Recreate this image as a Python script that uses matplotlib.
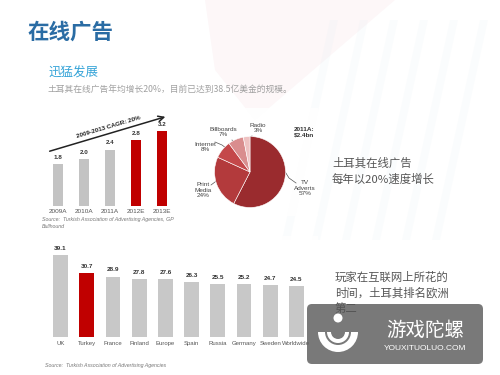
import matplotlib
matplotlib.use("Agg")
import matplotlib.pyplot as plt
import matplotlib.patches as mpatches

plt.rcParams["font.family"] = ["Liberation Sans", "Noto Sans CJK SC"]

# data
years = ["2009A", "2010A", "2011A", "2012E", "2013E"]
ad_spend = [1.8, 2.0, 2.4, 2.8, 3.2]
year_colors = ["#c3c3c3", "#c3c3c3", "#c3c3c3", "#c00000", "#c00000"]

media = ["TV\nAdverts\n57%", "Print\nMedia\n24%", "Internet\n8%", "Billboards\n7%", "Radio\n3%"]
media_share = [57, 24, 8, 7, 3]
media_colors = ["#9a2b2e", "#b33a3c", "#c4484a", "#d98d8e", "#eec2c2"]

countries = ["UK", "Turkey", "France", "Finland", "Europe", "Spain", "Russia",
             "Germany", "Sweden", "Worldwide"]
hours_online = [39.1, 30.7, 28.9, 27.8, 27.6, 26.3, 25.5, 25.2, 24.7, 24.5]
country_colors = ["#c8c8c8", "#c00000"] + ["#c8c8c8"] * 8

CJK = ["Noto Sans CJK SC", "DejaVu Sans"]
W, H = 500, 375


def px_axes(fig, left, top, right, bottom):
    return fig.add_axes([left / W, 1 - bottom / H, (right - left) / W, (bottom - top) / H])


fig = plt.figure(figsize=(5, 3.75), dpi=100)
fig.patch.set_facecolor("white")

bg = fig.add_axes([0, 0, 1, 1])
bg.set_xlim(0, W)
bg.set_ylim(H, 0)
bg.axis("off")

# faint background swoosh
bg.add_patch(mpatches.Polygon([(205, 0), (395, 0), (255, 120), (215, 70)],
                              closed=True, color="#e9a9b6", alpha=0.09, lw=0))
for k in range(6):
    x0 = 330 + k * 30
    bg.add_patch(mpatches.Polygon([(x0, 20), (x0 + 8, 20), (x0 - 40, 240), (x0 - 48, 240)],
                                  closed=True, color="#d5e6ef", alpha=0.10, lw=0))

# white panels
for (l, t, r, b) in [(30, 108, 182, 232), (183, 108, 318, 216), (36, 236, 318, 370)]:
    bg.add_patch(mpatches.Rectangle((l, t), r - l, b - t, color="white", alpha=0.92, lw=0))

# headings
bg.text(28, 32, "在线广告", family=CJK, fontsize=15.5, fontweight="bold",
        color="#2a6ca4", va="center")
bg.text(48, 73, "迅猛发展", family=CJK, fontsize=9, color="#36a4d8", va="center")
bg.text(48, 89, "土耳其在线广告年均增长20%，目前已达到38.5亿美金的规模。",
        family=CJK, fontsize=6.3, color="#a0a0a0", va="center")

bg.text(332, 163, "土耳其在线广告", family=CJK, fontsize=8.2, color="#555555", va="center")
bg.text(332, 179, "每年以20%速度增长", family=CJK, fontsize=8.2, color="#555555", va="center")
bg.text(335, 277, "玩家在互联网上所花的", family=CJK, fontsize=8.2, color="#555555", va="center")
bg.text(335, 293, "时间，土耳其排名欧洲", family=CJK, fontsize=8.2, color="#555555", va="center")
bg.text(335, 309, "第二", family=CJK, fontsize=8.2, color="#555555", va="center")

# top-left bar chart
ax1 = px_axes(fig, 40, 112, 180, 206)
ax1.bar(range(len(years)), ad_spend, width=0.4, color=year_colors)
for i, v in enumerate(ad_spend):
    ax1.annotate(f"{v:.1f}", (i, v), xytext=(0, 3), textcoords="offset points",
                 ha="center", va="bottom", fontsize=4.5, fontweight="bold", color="#333333")
ax1.set_xlim(-0.7, 4.7)
ax1.set_ylim(0, 4)
ax1.axhline(0, color="#bbbbbb", lw=0.6)
ax1.set_xticks(range(len(years)))
ax1.set_xticklabels(years, fontsize=4.6, color="#555555")
ax1.tick_params(axis="x", length=0, pad=2)
ax1.set_yticks([])
for s in ax1.spines.values():
    s.set_visible(False)
ax1.patch.set_alpha(0)

bg.annotate("", xy=(168, 116), xytext=(47, 152),
            arrowprops=dict(arrowstyle="->", lw=1.1, color="#222222"))
bg.text(109, 127, "2009-2013 CAGR: 20%", fontsize=4.5, fontweight="bold",
        rotation=16.5, ha="center", va="center", color="#222222")
bg.text(42, 219, "Source:  Turkish Association of Advertising Agencies, GP",
        fontsize=3.8, style="italic", color="#777777", va="center")
bg.text(42, 226, "Bullhound", fontsize=3.8, style="italic", color="#777777", va="center")

# pie chart
ax2 = px_axes(fig, 250 - 35.5, 172 - 35.5, 250 + 35.5, 172 + 35.5)
ax2.pie(media_share, colors=media_colors, startangle=90, counterclock=False,
        wedgeprops=dict(edgecolor="white", linewidth=0.4))
ax2.set_xlim(-1, 1)
ax2.set_ylim(-1, 1)

label_pos = [(305, 188), (203, 190), (205, 147), (223, 132), (258, 128)]
leader = [[(296, 183), (289, 178), (284, 170)],
          [(211, 185), (215, 182), (219, 178)],
          [(215, 142), (222, 145), (226, 148)],
          [(232, 140), (236, 146), (238, 148)],
          [(252, 136), (248, 138), (247, 141)]]
for name, pos, pts in zip(media, label_pos, leader):
    bg.text(pos[0], pos[1], name, fontsize=4.6, ha="center", va="center",
            color="#444444", linespacing=1.05)
    bg.plot([p[0] for p in pts], [p[1] for p in pts], color="#555555", lw=0.5)
bg.text(294, 132, "2011A:\n\\$2.4bn", fontsize=4.6, fontweight="bold",
        ha="left", va="center", color="#333333", linespacing=1.1)

# bottom bar chart
ax3 = px_axes(fig, 37, 243, 320, 337)
ax3.bar(range(len(countries)), hours_online, width=0.57, color=country_colors)
for i, v in enumerate(hours_online):
    ax3.annotate(f"{v:.1f}", (i, v), xytext=(0, 3), textcoords="offset points",
                 ha="center", va="bottom", fontsize=4.6, fontweight="bold", color="#333333")
ax3.set_xlim(-0.9, 9.9)
ax3.set_ylim(0, 45)
ax3.axhline(0, xmin=0.035, xmax=0.965, color="#aaaaaa", lw=0.6)
ax3.set_xticks(range(len(countries)))
ax3.set_xticklabels(countries, fontsize=4.3, color="#555555")
ax3.tick_params(axis="x", length=0, pad=3)
ax3.set_yticks([])
for s in ax3.spines.values():
    s.set_visible(False)
ax3.patch.set_alpha(0)

bg.text(45, 365, "Source:  Turkish Association of Advertising Agencies",
        fontsize=3.8, style="italic", color="#777777", va="center")

# watermark
bg.add_patch(mpatches.FancyBboxPatch((307, 304), 176, 60,
                                     boxstyle="round,pad=0,rounding_size=5",
                                     color="#6a6a6a", alpha=0.9, lw=0))
bg.add_patch(mpatches.Wedge((338, 332), 20, 0, 180, width=7, color="white", lw=0))
bg.add_patch(mpatches.Wedge((338, 332), 11, 0, 180, width=4, color="white", lw=0))
bg.add_patch(mpatches.Circle((338, 318), 4.5, color="white", lw=0))
bg.text(425, 330, "游戏陀螺", family=CJK, fontsize=14, color="white",
        ha="center", va="center")
bg.text(425, 349, "YOUXITUOLUO.COM", fontsize=6, color="white", ha="center", va="center")

fig.savefig("out.png", dpi=100)
